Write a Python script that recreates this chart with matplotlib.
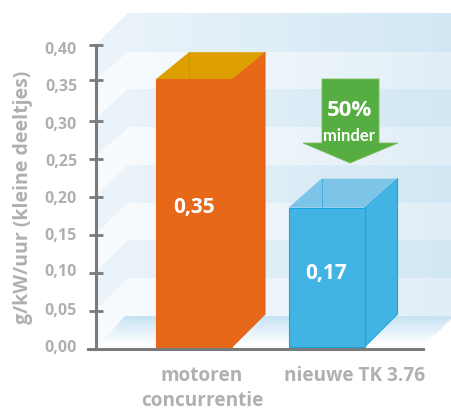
import matplotlib
matplotlib.use('Agg')
import matplotlib.pyplot as plt
import numpy as np
from matplotlib.patches import Polygon

plt.rcParams['font.family'] = ['Open Sans', 'DejaVu Sans']

categories = ['motoren\nconcurrentie', 'nieuwe TK 3.76']
values = [0.355, 0.186]  # drawn heights in the picture
value_labels = ['0,35', '0,17']
ticks = [0.0, 0.05, 0.10, 0.15, 0.20, 0.25, 0.30, 0.354, 0.40]
tick_labels = ['0,00', '0,05', '0,10', '0,15', '0,20', '0,25', '0,30', '0,35', '0,40']

GREY = '#b0b0b0'
AXIS = '#7a7a7a'

fig = plt.figure(figsize=(4.51, 4.10), dpi=100)

# background in pixel coords
bg = fig.add_axes([0, 0, 1, 1])
bg.set_xlim(0, 451)
bg.set_ylim(410, 0)
bg.axis('off')

back_y = [14, 53, 90, 129, 166, 204, 241, 279, 317]
side_y = [46, 81, 120, 158, 197, 235, 273, 312, 350]
for i in range(8):
    if i % 2 == 0:
        c0, c1 = '#e9f3f9', '#d2e7f4'
    else:
        c0, c1 = '#f7fbfd', '#e1eef7'
    grad = np.linspace(0, 1, 64).reshape(1, -1)
    cmap = matplotlib.colors.LinearSegmentedColormap.from_list('b', [c0, c1])
    bg.imshow(grad, extent=[128, 451, back_y[i + 1], back_y[i]], cmap=cmap, aspect='auto', zorder=1)
    bg.add_patch(Polygon([(95, side_y[i]), (128, back_y[i]), (128, back_y[i + 1]), (95, side_y[i + 1])],
                         fc=c0, ec='none', zorder=1))

# floor band fading to white
fade = np.linspace(0, 1, 64).reshape(-1, 1)
cmap = matplotlib.colors.LinearSegmentedColormap.from_list('f', ['#c6e2f3', '#ffffff'])
im = bg.imshow(fade, extent=[95, 451, 345, 317], cmap=cmap, aspect='auto', zorder=2)
im.set_clip_path(Polygon([(125, 317), (451, 317), (451, 320), (426, 345), (100, 345)], transform=bg.transData))
bg.set_xlim(0, 451)
bg.set_ylim(410, 0)

# main axes, 0..0.40 between pixel rows 350 and 46
ax = fig.add_axes([95.5 / 451, 60 / 410, (423 - 95.5) / 451, 304 / 410])
ax.patch.set_alpha(0)
ax.set_xlim(95.5, 423)
ax.set_ylim(0, 0.40)
px = 0.40 / 304

centers = [194, 326.5]
width = 76
dx = 33
depth_top = [27, 29]
faces = [('#e8681a', '#dea000', '#e8681a', '#c98a00'), ('#42b4e3', '#7cc4e8', '#42b4e3', '#1aa3dc')]
for x, v, d, (front, top, side, edge) in zip(centers, values, depth_top, faces):
    l, r = x - width / 2, x + width / 2
    dy_top = d * px
    dy_bot = 33 * px
    base = 2 * px
    ax.add_patch(Polygon([(r, base), (r + dx, base + dy_bot), (r + dx, v + dy_top), (r, v)],
                         fc=side, ec=edge if front != '#e8681a' else '#e2611a', lw=0.8, zorder=3))
    ax.add_patch(Polygon([(l, v), (l + dx, v + dy_top), (r + dx, v + dy_top), (r, v)],
                         fc=top, ec='none', zorder=3))
    ax.plot([l + dx, l + dx], [v, v + dy_top], color=edge, lw=0.7, alpha=0.6, zorder=3)
    ax.bar(x, v - base, width, bottom=base, color=front,
           edgecolor=edge if front != '#e8681a' else front, linewidth=0.8, zorder=4)

for x, v, s, ypos in zip(centers, values, value_labels, [0.187, 0.1]):
    ax.text(x, ypos, s, color='white', fontsize=15, fontweight='bold', ha='center', va='center', zorder=5)

# green arrow
arrow = [(322, 80), (379, 80), (379, 144), (398, 144), (350, 164), (303, 144), (322, 144)]
bg.add_patch(Polygon(arrow, fc='#56ae43', ec='#7cbd5f', lw=0.6, zorder=3))
bg.text(349.5, 110, '50%', color='white', fontsize=16, fontweight='bold', ha='center', va='center', zorder=4)
bg.text(349.5, 136.5, 'minder', color='white', fontsize=12, fontweight='bold', ha='center', va='center',
        family=['Lato', 'DejaVu Sans'], zorder=4)

# axes
for s in ['top', 'right']:
    ax.spines[s].set_visible(False)
for s in ['left', 'bottom']:
    ax.spines[s].set_color(AXIS)
    ax.spines[s].set_linewidth(2.2)
    ax.spines[s].set_zorder(6)
ax.spines['bottom'].set_bounds(88, 423)
ax.set_yticks(ticks)
ax.set_yticklabels([])
ax.tick_params(axis='y', direction='inout', length=10, width=2, color=AXIS, zorder=6)
ax.set_xticks([])

label_px = [348, 311, 272, 236, 199, 162, 125, 87, 50]
for s, p in zip(tick_labels, label_px):
    bg.text(77, p, s, color=GREY, fontsize=11.5, fontweight='bold', ha='right', va='center')

bg.text(23, 197, 'g/kW/uur (kleine deeltjes)', color=GREY, fontsize=14, fontweight='bold',
        rotation=90, ha='center', va='center')

xl = [202, 354.5]
for x, s in zip(xl, categories):
    bg.text(x, 376, s.split('\n')[0], color=GREY, fontsize=13.7, fontweight='bold', ha='center', va='center')
    if '\n' in s:
        bg.text(x, 401, s.split('\n')[1], color=GREY, fontsize=13.7, fontweight='bold', ha='center', va='center')

fig.savefig('out.png', dpi=100)
